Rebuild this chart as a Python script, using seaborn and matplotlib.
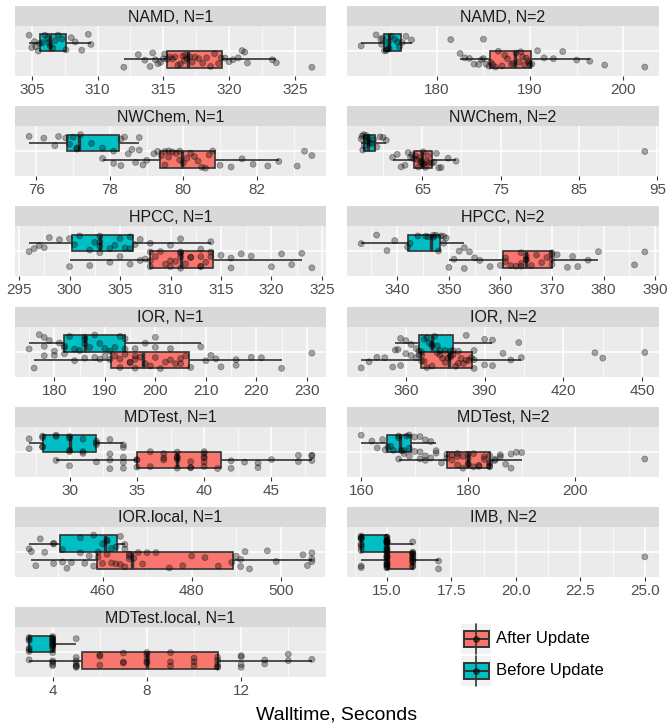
import numpy as np
import pandas as pd
import matplotlib
matplotlib.use('Agg')
import matplotlib.pyplot as plt
from matplotlib.patches import Rectangle
import seaborn as sns

# walltime samples (seconds) per benchmark, before / after the update
namd1_before = [304.8, 305.0, 305.2, 305.3, 305.5, 305.6, 305.8, 306.0, 306.2, 306.3, 306.4,
                306.6, 306.8, 307.0, 307.3, 307.6, 308.0, 308.3, 308.8, 309.3, 309.5]
namd1_after = [312.0, 313.1, 313.6, 314.0, 314.2, 314.4, 314.6, 314.8, 315.0, 315.1, 315.3,
               315.5, 315.7, 315.9, 316.1, 316.3, 316.5, 316.6, 316.7, 316.8, 317.0, 317.2,
               317.4, 317.7, 318.0, 318.3, 318.6, 318.9, 319.2, 319.4, 319.7, 320.0, 320.3,
               320.7, 321.0, 321.2, 321.4, 323.3, 323.6, 326.3]
namd2_before = [171.9, 173.5, 174.0, 174.1, 174.2, 174.4, 174.6, 174.7, 174.8, 174.9, 175.1,
                175.5, 175.8, 176.0, 176.3, 176.7, 177.3, 181.5, 185.0]
namd2_after = [182.5, 183.0, 183.5, 184.0, 184.5, 184.8, 185.0, 185.3, 185.6, 185.8, 186.0,
               186.3, 186.6, 187.0, 187.3, 187.6, 188.0, 188.2, 188.5, 188.8, 189.0, 189.2,
               189.4, 189.6, 189.8, 189.9, 190.0, 190.2, 190.8, 191.5, 192.5, 193.5, 195.0,
               196.4, 198.0, 202.3]
nwchem1_before = [75.8, 76.2, 76.5, 76.6, 76.8, 76.9, 77.0, 77.1, 77.1, 77.2, 77.5, 77.8,
                  78.1, 78.3, 78.4, 78.6, 78.8, 78.8]
nwchem1_after = [77.8, 78.1, 78.3, 78.5, 78.7, 78.9, 79.0, 79.2, 79.3, 79.4, 79.5, 79.5,
                 79.6, 79.6, 79.7, 79.8, 79.9, 79.9, 80.0, 80.1, 80.2, 80.3, 80.4, 80.5,
                 80.6, 80.7, 80.8, 81.0, 81.3, 81.6, 81.9, 82.3, 82.6, 83.1, 83.3, 83.5]
nwchem2_before = [57.2, 57.3, 57.4, 57.5, 57.6, 57.8, 57.9, 58.0, 58.1, 58.3, 58.5, 58.8,
                  59.2, 59.6, 60.0, 60.4]
nwchem2_after = [61.2, 61.8, 62.3, 62.8, 63.2, 63.5, 63.7, 63.9, 64.1, 64.3, 64.5, 64.7,
                 64.8, 64.9, 65.0, 65.1, 65.2, 65.4, 65.5, 65.7, 65.9, 66.2, 66.5, 66.8,
                 67.1, 67.4, 68.3, 69.3, 93.4]
hpcc1_before = [296, 296.5, 297, 297.5, 298, 299, 300, 300.5, 301, 302, 302.5, 303, 303, 303,
                304, 304.5, 305, 305.5, 306, 306, 306.5, 307, 308, 310, 311, 313, 314]
hpcc1_after = [300, 302, 303, 304, 305, 306, 307, 307.5, 308, 308, 308, 308.5, 309, 309.5,
               310, 310, 310.5, 311, 311, 311, 311, 311.5, 312, 312, 313, 313, 313, 313.5,
               314, 314, 315, 316, 316, 317, 318, 320, 321, 322, 323, 324]
hpcc2_before = [333, 336, 338, 339.5, 342, 342.5, 344, 345.5, 346, 347, 347, 347.5, 348,
                348.5, 349, 349, 349.5, 353]
hpcc2_after = [350, 351, 352, 353, 354, 355, 356, 358, 360, 361, 361, 362, 363, 364, 364,
               364, 365, 365, 365, 366, 367, 368, 369, 370, 370, 370, 370, 371, 373, 374,
               375, 377, 379, 386, 388]
ior1_before = [175, 177, 178, 178, 179, 180, 181, 182, 182, 183, 184, 185, 186, 186, 186,
               187, 188, 189, 190, 192, 193, 194, 194, 196, 198, 200, 200, 203, 209]
ior1_after = [176, 178, 180, 182, 184, 186, 188, 189, 190, 191, 191, 192, 193, 193, 194,
              195, 195, 196, 196, 196, 197, 198, 199, 200, 201, 202, 203, 204, 205, 205,
              206, 207, 210, 211, 212, 213, 216, 216, 219, 221, 225, 231]
ior2_before = [356, 357, 358, 360, 362, 364, 365, 366, 367, 368, 369, 370, 370, 371, 372,
               373, 375, 377, 378, 380, 383, 386, 390, 393, 403]
ior2_after = [343, 346, 349, 352, 355, 358, 360, 362, 364, 365, 366, 366, 367, 368, 370,
              372, 373, 374, 375, 376, 377, 377, 378, 379, 380, 381, 382, 383, 384, 385,
              386, 386, 390, 393, 397, 400, 404, 432, 435, 451]
mdtest1_before = [27, 27, 28, 28, 28, 28, 29, 29, 30, 30, 30, 30, 31, 31, 32, 32, 32, 33, 34, 34]
mdtest1_after = [29, 30, 31, 32, 33, 33, 33, 34, 34, 34, 35, 35, 35, 36, 36, 37, 37, 37, 38,
                 38, 38, 38, 38, 39, 39, 39, 40, 40, 40, 40, 40, 40, 41, 42, 42, 43, 44, 44,
                 45, 47, 47, 48, 48, 48]
mdtest2_before = [160, 162, 163, 164, 164.5, 165, 165.5, 166, 167, 167, 167.5, 168, 168.5,
                  169, 169, 170, 171, 172, 173, 174]
mdtest2_after = [167, 168, 169, 170, 171, 171, 172, 172, 173, 174, 175, 176, 176, 177, 177,
                 178, 178, 178, 179, 179, 180, 180, 180, 180, 181, 181, 182, 182, 183, 183,
                 184, 184, 184, 184, 184, 185, 185, 186, 186, 187, 188, 188, 189, 190, 213]
iorlocal1_before = [443.5, 446, 449, 449, 451, 455, 458, 460, 461, 461, 462, 463, 464, 465,
                    465, 497]
iorlocal1_after = [444, 445, 447, 449, 451, 452, 453, 455, 456, 457, 458, 459, 459, 460, 461,
                   462, 463, 464, 465, 466, 466, 466, 467, 468, 469, 470, 472, 475, 478, 480,
                   483, 486, 489, 490, 491, 491, 492, 493, 499, 505, 506, 507, 507, 507]
imb2_before = [14] * 9 + [15] * 14 + [16]
imb2_after = [14] * 2 + [15] * 15 + [16] * 12 + [17] * 2 + [25]
mdtestlocal1_before = [3] * 6 + [4] * 12 + [5]
mdtestlocal1_after = [3, 4, 4, 4, 4, 5, 5, 5, 5, 5, 5, 6, 6, 6, 7, 7, 7, 8, 8, 8, 8, 8, 9, 9,
                      9, 10, 10, 10, 11, 11, 11, 11, 11, 12, 12, 12, 12, 13, 13, 14, 14, 15]

panel_names = ['NAMD, N=1', 'NAMD, N=2', 'NWChem, N=1', 'NWChem, N=2', 'HPCC, N=1',
               'HPCC, N=2', 'IOR, N=1', 'IOR, N=2', 'MDTest, N=1', 'MDTest, N=2',
               'IOR.local, N=1', 'IMB, N=2', 'MDTest.local, N=1']
panel_data = [(namd1_before, namd1_after), (namd2_before, namd2_after),
              (nwchem1_before, nwchem1_after), (nwchem2_before, nwchem2_after),
              (hpcc1_before, hpcc1_after), (hpcc2_before, hpcc2_after),
              (ior1_before, ior1_after), (ior2_before, ior2_after),
              (mdtest1_before, mdtest1_after), (mdtest2_before, mdtest2_after),
              (iorlocal1_before, iorlocal1_after), (imb2_before, imb2_after),
              (mdtestlocal1_before, mdtestlocal1_after)]
panel_ticks = [[305, 310, 315, 320, 325], [180, 190, 200], [76, 78, 80, 82], [65, 75, 85, 95],
               [295, 300, 305, 310, 315, 320, 325], [340, 350, 360, 370, 380, 390],
               [180, 190, 200, 210, 220, 230], [360, 390, 420, 450], [30, 35, 40, 45],
               [160, 180, 200], [460, 480, 500], [15.0, 17.5, 20.0, 22.5, 25.0], [4, 8, 12]]
panel_ticklabels = [None] * 11 + [['15.0', '17.5', '20.0', '22.5', '25.0'], None]

groups = ['After Update', 'Before Update']
colors = {'After Update': '#F8766D', 'Before Update': '#00BFC4'}

rows = []
for name, (before, after) in zip(panel_names, panel_data):
    for v in before:
        rows.append((name, 'Before Update', v))
    for v in after:
        rows.append((name, 'After Update', v))
df = pd.DataFrame(rows, columns=['panel', 'update', 'walltime'])

sns.set_theme(style='darkgrid', rc={'axes.facecolor': '#EBEBEB', 'grid.color': 'white'})
plt.rcParams['font.family'] = ['Liberation Sans', 'DejaVu Sans']

W, H = 670, 728
fig = plt.figure(figsize=(W / 100, H / 100), dpi=100)


def px(x0, top, w, h):
    return [x0 / W, 1 - (top + h) / H, w / W, h / H]


col_x = [(15, 311), (347, 312)]
np.random.seed(7)

for i, name in enumerate(panel_names):
    r, c = divmod(i, 2)
    top = 26 + 100.2 * r
    x0, w = col_x[c]
    ax = fig.add_axes(px(x0, top, w, 50))
    sax = fig.add_axes(px(x0, top - 20, w, 20))
    sax.set_facecolor('#D9D9D9')
    sax.set_xticks([])
    sax.set_yticks([])
    for s in sax.spines.values():
        s.set_visible(False)
    sax.text(0.5, 0.45, name, ha='center', va='center', fontsize=11.5,
             color='#1A1A1A', transform=sax.transAxes)

    sub = df[df['panel'] == name]
    sns.boxplot(data=sub, x='walltime', y='panel', hue='update',
                hue_order=['Before Update', 'After Update'], palette=colors,
                width=0.8, gap=0, dodge=True, saturation=1, showfliers=False,
                showcaps=False, linecolor='#333333', linewidth=1.2,
                medianprops={'linewidth': 2.4}, legend=False, ax=ax)
    sns.stripplot(data=sub, x='walltime', y='panel', hue='update',
                  hue_order=['Before Update', 'After Update'],
                  palette={'Before Update': 'black', 'After Update': 'black'},
                  dodge=True, jitter=0.42, size=4.3, alpha=0.33, linewidth=0.6,
                  edgecolor='black', legend=False, ax=ax)

    lo, hi = sub['walltime'].min(), sub['walltime'].max()
    pad = (hi - lo) * 0.05
    ax.set_xlim(lo - pad, hi + pad)
    ax.set_ylim(0.6, -0.6)

    ticks = panel_ticks[i]
    step = ticks[1] - ticks[0]
    minor = [t + step / 2 for t in [ticks[0] - step] + ticks]
    ax.set_xticks(ticks)
    if panel_ticklabels[i] is not None:
        ax.set_xticklabels(panel_ticklabels[i])
    ax.set_xticks([m for m in minor if lo - pad < m < hi + pad], minor=True)
    ax.set_yticks([0])
    ax.set_yticklabels([])
    ax.grid(True, which='major', color='white', linewidth=1.1)
    ax.grid(True, which='minor', axis='x', color='white', linewidth=0.5)
    ax.yaxis.grid(True, color='white', linewidth=1.1)
    ax.set_axisbelow(True)
    ax.tick_params(axis='x', which='major', length=3, width=0.8, color='#333333',
                   labelsize=11, labelcolor='#4D4D4D', pad=2, bottom=True)
    ax.tick_params(axis='x', which='minor', length=0)
    ax.tick_params(axis='y', length=0)
    ax.set_xlabel('')
    ax.set_ylabel('')
    for s in ax.spines.values():
        s.set_visible(False)

fig.text(337 / W, 1 - 715 / H, 'Walltime, Seconds', ha='center', va='center',
         fontsize=14, color='black')

# legend drawn in pixel coordinates
lax = fig.add_axes([0, 0, 1, 1])
lax.set_xlim(0, W)
lax.set_ylim(H, 0)
lax.axis('off')
for k, (g, ktop) in enumerate([('After Update', 624), ('Before Update', 656)]):
    lax.add_patch(Rectangle((461, ktop), 30, 30, facecolor='#F2F2F2', edgecolor='none'))
    lax.plot([476, 476], [ktop, ktop + 30], color='#333333', lw=1.2)
    lax.add_patch(Rectangle((463.5, ktop + 7), 25, 16, facecolor=colors[g],
                            edgecolor='#333333', lw=1.4))
    lax.plot([463.5, 488.5], [ktop + 15, ktop + 15], color='#333333', lw=1.4)
    lax.plot([476], [ktop + 15], 'o', color='black', alpha=0.5, ms=4)
    lax.text(496, ktop + 15, g, ha='left', va='center', fontsize=12, color='black')

fig.savefig('out.png', dpi=100)
